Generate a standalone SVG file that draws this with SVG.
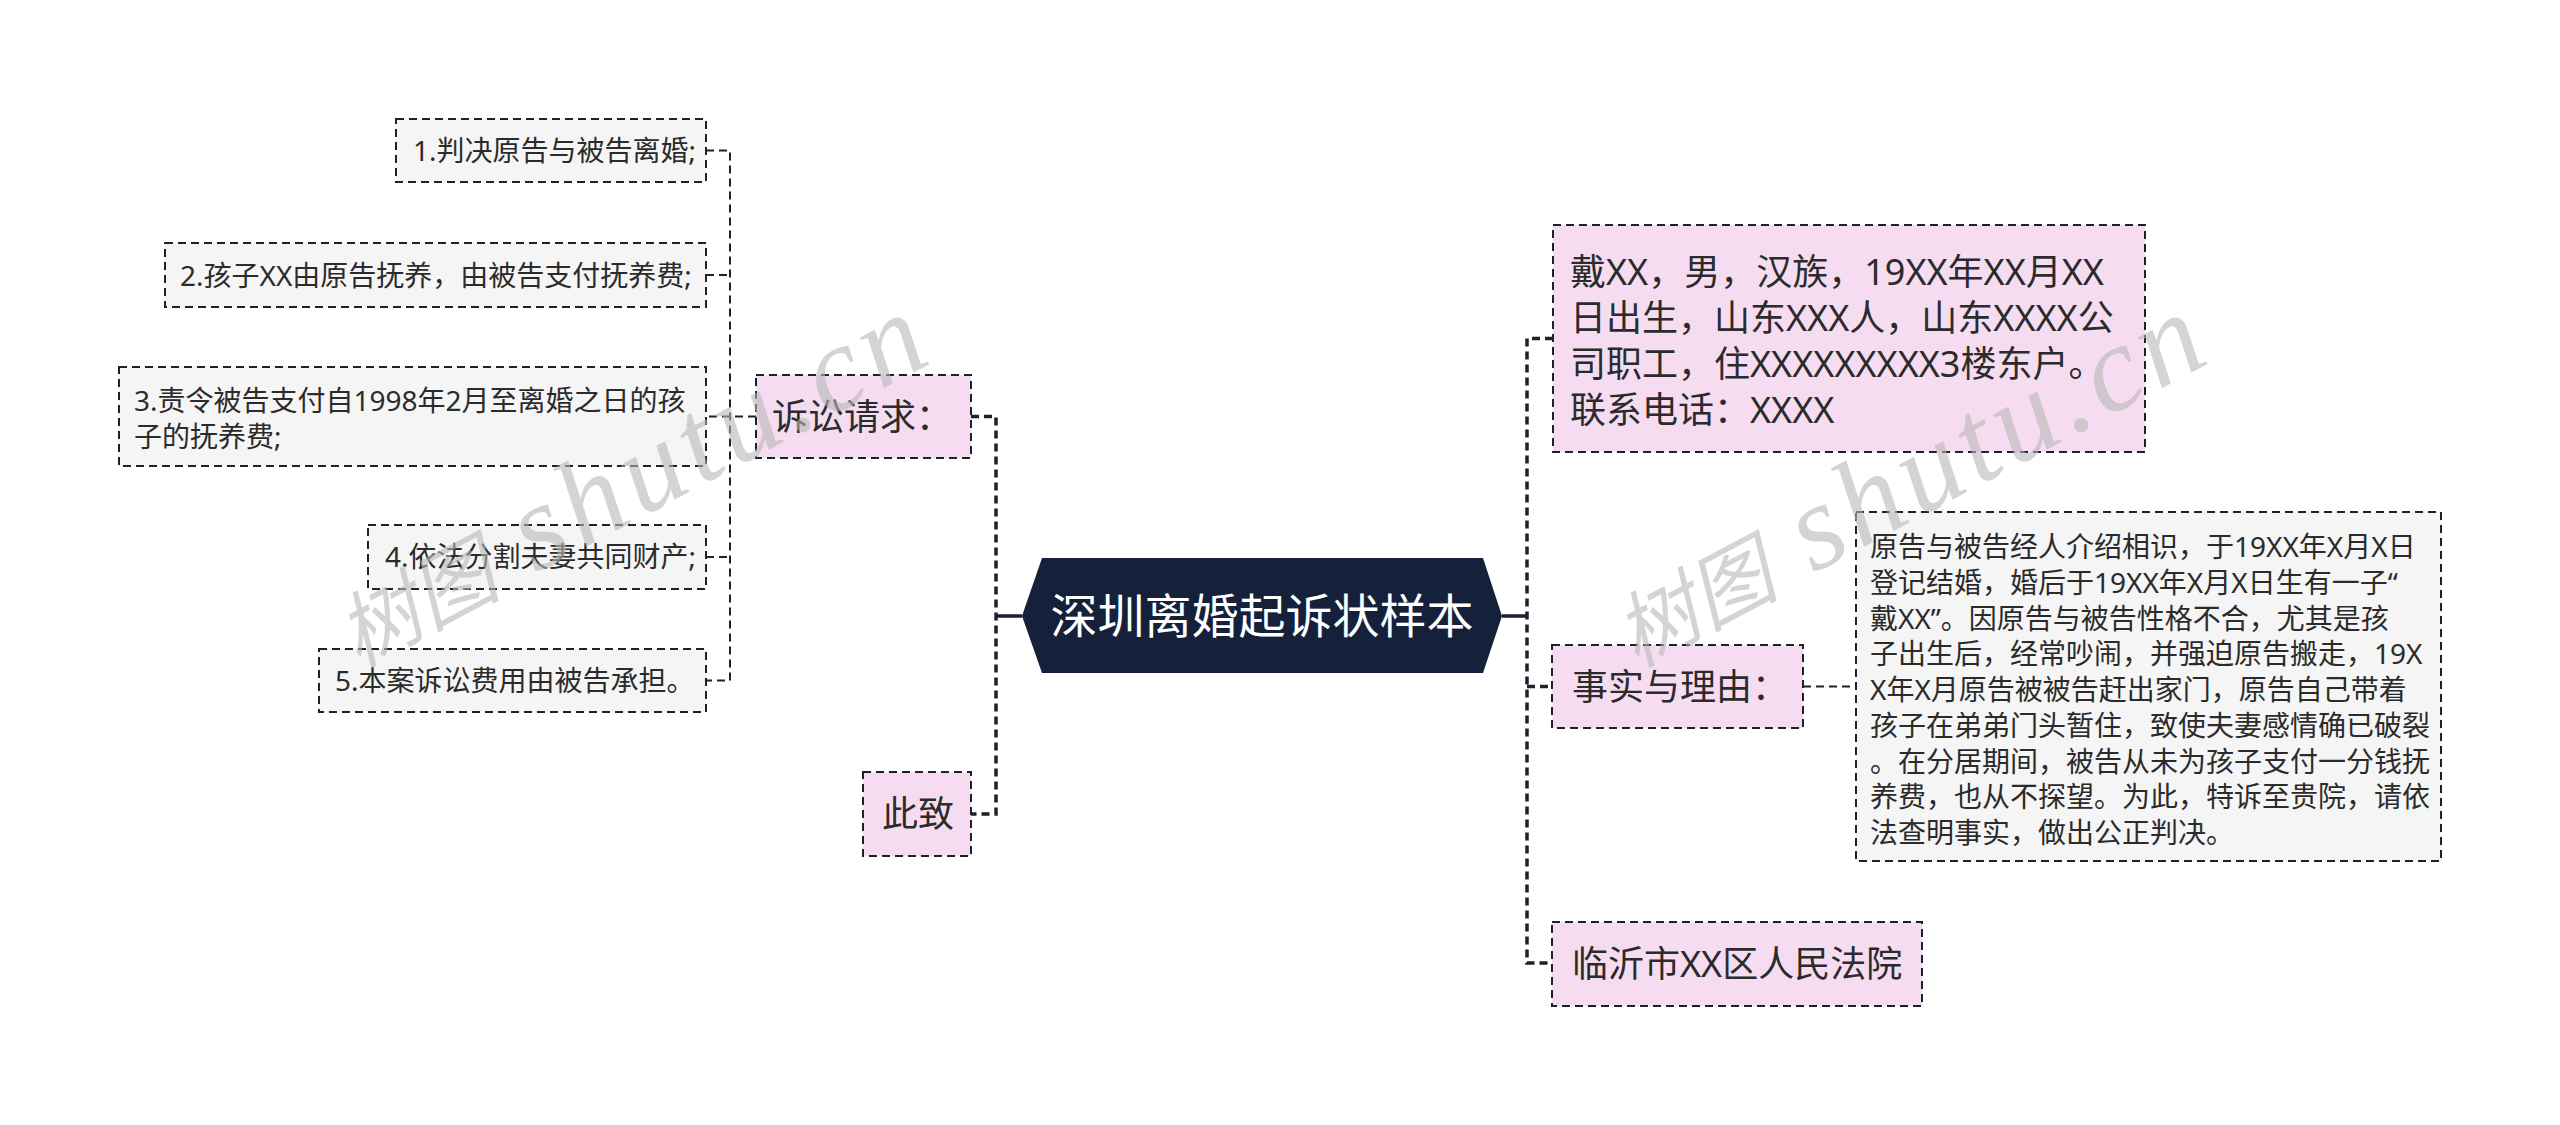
<svg xmlns="http://www.w3.org/2000/svg" width="2560" height="1125" viewBox="0 0 2560 1125">
<style>
.t{font-family:"Noto Sans","Noto Sans CJK SC",sans-serif;fill:#2b2b2b;}
.s2{font-size:28px;}
.s1{font-size:36px;}
.box2{fill:#f5f5f5;stroke:#1c2130;stroke-width:2;stroke-dasharray:8 5;}
.box1{fill:#f6dcf0;stroke:#1c2130;stroke-width:2;stroke-dasharray:8 5;}
.c1{fill:none;stroke:#1c2130;stroke-width:3.5;stroke-dasharray:8 5;}
.c2{fill:none;stroke:#1c2130;stroke-width:2;stroke-dasharray:8 5;}
.c0{fill:none;stroke:#1c2130;stroke-width:3.5;}
.wm{font-family:"Liberation Serif","Noto Sans CJK SC",serif;font-style:italic;fill:#b8b8b8;opacity:0.6;}
</style>
<rect width="2560" height="1125" fill="#ffffff"/>
<g id="connectors">
<path class="c0" d="M996,616 H1022"/>
<path class="c0" d="M1502,616 H1527"/>
<path class="c1" d="M971,416.5 H996 V814 H971"/>
<path class="c1" d="M1553,338.5 H1527 V963 H1552"/>
<path class="c1" d="M1527,686.5 H1552"/>
<path class="c2" d="M756,416.5 H706"/>
<path class="c2" d="M706,150.5 H730 V680.5 H706"/>
<path class="c2" d="M706,275 H730"/>
<path class="c2" d="M706,557 H730"/>
<path class="c2" d="M1803,686.5 H1856"/>
</g>
<g id="root">
<polygon points="1022,616 1042,558 1483,558 1502,616 1483,673 1042,673" fill="#15213a"/>
<text class="t" x="1262" y="633" font-size="47" text-anchor="middle" style="fill:#ffffff">深圳离婚起诉状样本</text>
</g>
<g id="n-suqiu">
<rect class="box1" x="756" y="375" width="215" height="83"/>
<text class="t s1" x="772" y="430">诉讼请求：</text>
</g>
<g id="n-1">
<rect class="box2" x="396" y="119" width="310" height="63"/>
<text class="t s2" x="413" y="161">1.判决原告与被告离婚;</text>
</g>
<g id="n-2">
<rect class="box2" x="165" y="243" width="541" height="64"/>
<text class="t s2" x="180" y="286">2.孩子XX由原告抚养，由被告支付抚养费;</text>
</g>
<g id="n-3">
<rect class="box2" x="119" y="367" width="587" height="99"/>
<text class="t s2" x="134" y="411">3.责令被告支付自1998年2月至离婚之日的孩</text>
<text class="t s2" x="134" y="447">子的抚养费;</text>
</g>
<g id="n-4">
<rect class="box2" x="368" y="525" width="338" height="64"/>
<text class="t s2" x="385" y="567">4.依法分割夫妻共同财产;</text>
</g>
<g id="n-5">
<rect class="box2" x="319" y="649" width="387" height="63"/>
<text class="t s2" x="335" y="691">5.本案诉讼费用由被告承担。</text>
</g>
<g id="n-cizhi">
<rect class="box1" x="863" y="772" width="108" height="84"/>
<text class="t s1" x="882" y="827">此致</text>
</g>
<g id="n-dai">
<rect class="box1" x="1553" y="225" width="592" height="227"/>
<text class="t s1" x="1570" y="285">戴XX，男，汉族，19XX年XX月XX</text>
<text class="t s1" x="1570" y="331">日出生，山东XXX人，山东XXXX公</text>
<text class="t s1" x="1570" y="377">司职工，住XXXXXXXXX3楼东户。</text>
<text class="t s1" x="1570" y="423">联系电话：XXXX</text>
</g>
<g id="n-shishi">
<rect class="box1" x="1552" y="645" width="251" height="83"/>
<text class="t s1" x="1572" y="700">事实与理由：</text>
</g>
<g id="n-fact">
<rect class="box2" x="1856" y="512" width="585" height="349"/>
<text class="t s2" x="1870" y="557">原告与被告经人介绍相识，于19XX年X月X日</text>
<text class="t s2" x="1870" y="592.75">登记结婚，婚后于19XX年X月X日生有一子“</text>
<text class="t s2" x="1870" y="628.5">戴XX”。因原告与被告性格不合，尤其是孩</text>
<text class="t s2" x="1870" y="664.25">子出生后，经常吵闹，并强迫原告搬走，19X</text>
<text class="t s2" x="1870" y="700">X年X月原告被被告赶出家门，原告自己带着</text>
<text class="t s2" x="1870" y="735.75">孩子在弟弟门头暂住，致使夫妻感情确已破裂</text>
<text class="t s2" x="1870" y="771.5">。在分居期间，被告从未为孩子支付一分钱抚</text>
<text class="t s2" x="1870" y="807.25">养费，也从不探望。为此，特诉至贵院，请依</text>
<text class="t s2" x="1870" y="843">法查明事实，做出公正判决。</text>
</g>
<g id="n-court">
<rect class="box1" x="1552" y="922" width="370" height="84"/>
<text class="t s1" x="1572" y="977">临沂市XX区人民法院</text>
</g>
<g id="watermark">
<text class="wm" transform="translate(358,668) rotate(-28)"><tspan font-size="82">树图</tspan><tspan font-size="122" letter-spacing="6"> shutu.cn</tspan></text>
<text class="wm" transform="translate(1636,668) rotate(-28)"><tspan font-size="82">树图</tspan><tspan font-size="122" letter-spacing="6"> shutu.cn</tspan></text>
</g>
</svg>
